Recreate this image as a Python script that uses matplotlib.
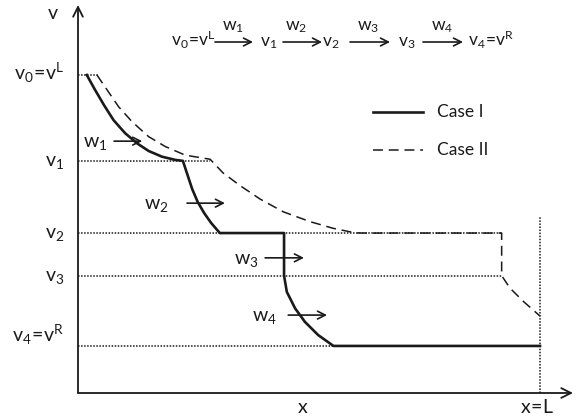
import matplotlib.pyplot as plt

plt.rcParams['font.family'] = ['Lato', 'DejaVu Sans']
plt.rcParams['mathtext.default'] = 'regular'

# state levels v0 (= vL) ... v4 (= vR), domain length L = 1
v_levels = [1.0, 0.73, 0.503, 0.369, 0.148]
v_labels = [r'$v_0\!=\!v^L$', r'$v_1$', r'$v_2$', r'$v_3$', r'$v_4\!=\!v^R$']
L = 1.0

# Case I: rarefaction w1, w2, shock w3, rarefaction w4
case1_x = [0.019, 0.037, 0.056, 0.077, 0.102, 0.128, 0.153, 0.182, 0.211, 0.227,
           0.237, 0.247, 0.259, 0.273, 0.288, 0.307,
           0.446, 0.446,
           0.452, 0.470, 0.491, 0.520, 0.553,
           1.0]
case1_v = [1.0, 0.953, 0.906, 0.858, 0.817, 0.785, 0.761, 0.743, 0.733, 0.730,
           0.686, 0.642, 0.601, 0.566, 0.535, 0.503,
           0.503, 0.369,
           0.318, 0.266, 0.224, 0.182, 0.148,
           0.148]

# Case II: waves have not reached their final positions yet
case2_x = [0.041, 0.063, 0.088, 0.117, 0.153, 0.189, 0.232, 0.286,
           0.314, 0.351, 0.394, 0.444, 0.502, 0.552, 0.595, 0.610,
           0.917, 0.917,
           0.935, 0.964, 1.0]
case2_v = [1.0, 0.953, 0.900, 0.853, 0.806, 0.775, 0.748, 0.735,
           0.692, 0.652, 0.610, 0.570, 0.539, 0.518, 0.505, 0.503,
           0.503, 0.369,
           0.330, 0.288, 0.242]

# how far each level's dotted guide runs
guide_end = [0.043, 0.285, 0.917, 0.917, 1.0]

# wave labels and their direction arrows (x start, x end, v)
wave_names = [r'$w_1$', r'$w_2$', r'$w_3$', r'$w_4$']
wave_text_x = [0.037, 0.169, 0.364, 0.403]
wave_arrow = [(0.078, 0.139, 0.792), (0.236, 0.318, 0.597),
              (0.405, 0.489, 0.425), (0.455, 0.539, 0.245)]

INK = '#1a1a1a'
FS = 12.5
FS_BIG = 14


def px(xp, yp):
    # layout helper: canvas pixel -> data coords
    return (xp - 78) / 462, (393 - yp) / 318


fig = plt.figure(figsize=(5.77, 4.19), dpi=100)
ax = fig.add_axes([0, 0, 1, 1])
ax.set_xlim(-78 / 462, 499 / 462)
ax.set_ylim(-26 / 318, 393 / 318)
ax.axis('off')

# coordinate axes with arrow heads
head = dict(arrowstyle='->,head_length=0.7,head_width=0.35', lw=1.3, color=INK,
            shrinkA=0, shrinkB=0)
ax.annotate('', xy=(0, px(0, 5)[1]), xytext=(0, 0), arrowprops=head)
ax.annotate('', xy=(px(573, 0)[0], 0), xytext=(0, 0), arrowprops=head)

# dotted guides
for lv, xe in zip(v_levels, guide_end):
    ax.plot([0, xe], [lv, lv], color=INK, lw=1.1, ls=(0, (1, 1)))
ax.plot([L, L], [0, 0.553], color=INK, lw=1.1, ls=(0, (1, 1)))

ax.plot(case1_x, case1_v, color=INK, lw=1.9, solid_joinstyle='round')
ax.plot(case2_x, case2_v, color=INK, lw=1.1, dashes=(6.5, 3.8))

# level labels on the v-axis
for i, (lv, lab) in enumerate(zip(v_levels, v_labels)):
    off = 0.012 if i == 4 else -0.016
    ax.text(-0.03, lv + off, lab, ha='right', va='baseline', fontsize=FS_BIG, color=INK)

ax.text(*px(53, 19), r'$v$', ha='center', va='baseline', fontsize=FS_BIG, color=INK)
ax.text(*px(303, 413), r'$x$', ha='center', va='baseline', fontsize=FS_BIG, color=INK)
ax.text(*px(537, 413), r'$x\!=\!L$', ha='center', va='baseline', fontsize=FS_BIG, color=INK)

arr = dict(arrowstyle='->,head_length=0.55,head_width=0.28', lw=1.2, color=INK,
           shrinkA=0, shrinkB=0)
for name, tx, (x0, x1, yv) in zip(wave_names, wave_text_x, wave_arrow):
    ax.annotate('', xy=(x1, yv), xytext=(x0, yv), arrowprops=arr)
    ax.text(tx, yv - 0.018, name, ha='center', va='baseline', fontsize=FS_BIG, color=INK)

# wave sequence across the top
chain = [(193, r'$v_0\!=\!v^L$'), (269, r'$v_1$'), (331, r'$v_2$'),
         (407, r'$v_3$'), (491, r'$v_4\!=\!v^R$')]
for xc, lab in chain:
    ax.text(*px(xc, 46), lab, ha='center', va='baseline', fontsize=FS, color=INK)
chain_arrows = [(215, 253, 233), (283, 322, 296), (350, 390, 368), (423, 463, 442)]
for (xa, xb, xw), name in zip(chain_arrows, wave_names):
    ax.annotate('', xy=px(xb, 42), xytext=px(xa, 42), arrowprops=arr)
    ax.text(*px(xw, 30), name, ha='center', va='baseline', fontsize=FS, color=INK)

# legend
ax.plot([px(373, 0)[0], px(423, 0)[0]], [px(0, 112)[1]] * 2, color=INK, lw=1.9)
ax.plot([px(373, 0)[0], px(423, 0)[0]], [px(0, 150)[1]] * 2, color=INK, lw=1.1,
        dashes=(6.5, 3.8))
ax.text(*px(437, 112), 'Case I', ha='left', va='center', fontsize=FS, color=INK)
ax.text(*px(437, 150), 'Case II', ha='left', va='center', fontsize=FS, color=INK)

fig.savefig('out.png', dpi=100, facecolor='white')
